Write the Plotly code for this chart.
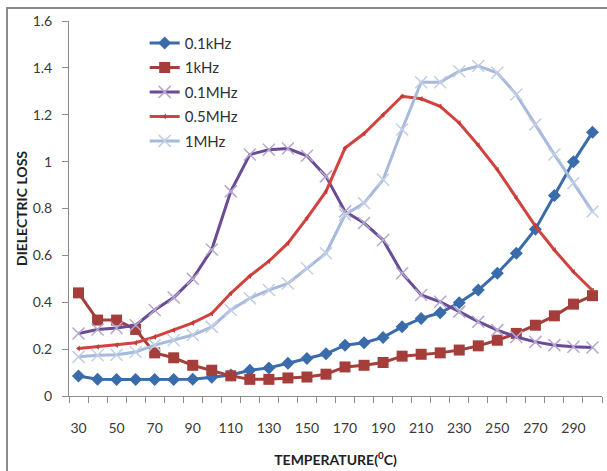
import plotly.graph_objects as go

temps = [30, 40, 50, 60, 70, 80, 90, 100, 110, 120, 130, 140, 150, 160,
         170, 180, 190, 200, 210, 220, 230, 240, 250, 260, 270, 280, 290, 300]
tick_labels = [30, 50, 70, 90, 110, 130, 150, 170, 190, 210, 230, 250, 270, 290]

loss_01khz = [0.085, 0.072, 0.07, 0.07, 0.07, 0.07, 0.072, 0.08, 0.09, 0.11, 0.12, 0.14,
              0.16, 0.18, 0.217, 0.227, 0.25, 0.295, 0.331, 0.355, 0.398, 0.452, 0.524,
              0.609, 0.712, 0.856, 1.0, 1.125]
loss_1khz = [0.44, 0.324, 0.324, 0.284, 0.184, 0.163, 0.131, 0.11, 0.086, 0.071, 0.071,
             0.077, 0.081, 0.093, 0.124, 0.131, 0.143, 0.17, 0.178, 0.184, 0.196, 0.214,
             0.238, 0.267, 0.302, 0.342, 0.392, 0.428]
loss_01mhz = [0.267, 0.284, 0.29, 0.302, 0.367, 0.42, 0.5, 0.625, 0.873, 1.03, 1.051,
              1.056, 1.025, 0.937, 0.787, 0.738, 0.666, 0.524, 0.431, 0.402, 0.36, 0.317,
              0.281, 0.252, 0.231, 0.217, 0.21, 0.207]
loss_05mhz = [0.203, 0.21, 0.217, 0.227, 0.252, 0.281, 0.312, 0.352, 0.438, 0.512, 0.575,
              0.652, 0.759, 0.873, 1.058, 1.12, 1.2, 1.279, 1.268, 1.236, 1.165, 1.07,
              0.966, 0.845, 0.725, 0.623, 0.53, 0.45]
loss_1mhz = [0.167, 0.174, 0.176, 0.188, 0.217, 0.238, 0.26, 0.295, 0.367, 0.417, 0.452,
             0.48, 0.545, 0.609, 0.773, 0.823, 0.923, 1.137, 1.339, 1.339, 1.386, 1.408,
             1.379, 1.286, 1.158, 1.03, 0.909, 0.787]

fig = go.Figure()
fig.add_trace(go.Scatter(x=temps, y=loss_01khz, name="0.1kHz", mode="lines+markers",
                         legendgroup="a",
                         line=dict(color="#3A6BAA", width=3),
                         marker=dict(symbol="diamond", size=10, color="#3A6BAA")))
fig.add_trace(go.Scatter(x=temps, y=loss_1khz, name="1kHz", mode="lines+markers",
                         legendgroup="b",
                         line=dict(color="#A53E3B", width=3),
                         marker=dict(symbol="square", size=11, color="#A53E3B")))
fig.add_trace(go.Scatter(x=temps, y=loss_01mhz, name="0.1MHz", mode="lines+markers",
                         legendgroup="c",
                         line=dict(color="#6A4B96", width=3),
                         marker=dict(symbol="x-thin", size=12, color="#6A4B96",
                                     line=dict(color="#B5A8CF", width=1.5))))
fig.add_trace(go.Scatter(x=temps, y=loss_05mhz, name="0.5MHz", mode="lines+markers",
                         legendgroup="d",
                         line=dict(color="#D2423E", width=3),
                         marker=dict(symbol="triangle-left", size=5, color="#C23A36")))
fig.add_trace(go.Scatter(x=temps, y=loss_1mhz, name="1MHz", mode="lines+markers",
                         legendgroup="e",
                         line=dict(color="#A7BADB", width=3),
                         marker=dict(symbol="x-thin", size=12, color="#A7BADB",
                                     line=dict(color="#C2CEE4", width=1.5))))

axis_font = dict(family="Lato, Noto Sans, sans-serif", size=14, color="#3A3A3A")

fig.update_layout(
    width=607, height=471,
    margin=dict(l=69, r=5, t=21, b=75),
    paper_bgcolor="white", plot_bgcolor="white",
    showlegend=True,
    legend=dict(x=0.142, y=0.985, xanchor="left", yanchor="top",
                font=dict(family="Lato, Noto Sans, sans-serif", size=15, color="#303030"),
                bgcolor="rgba(0,0,0,0)", itemwidth=30, tracegroupgap=2,
                traceorder="grouped"),
    xaxis=dict(range=[25, 305], tickvals=tick_labels, ticktext=[str(t) for t in tick_labels],
               showgrid=False, zeroline=False, showline=True, linecolor="#8C8C8C",
               linewidth=1, ticks="", tickfont=axis_font, ticklabelstandoff=19,
               minor=dict(tickmode="linear", tick0=25, dtick=10, ticks="outside",
                          ticklen=6, tickcolor="#8C8C8C", showgrid=False),
               title=dict(text="<b>TEMPERATURE(<sup>0</sup>C)</b>", standoff=20,
                          font=dict(family="Lato, Noto Sans, sans-serif", size=14,
                                    color="#222222"))),
    yaxis=dict(range=[0, 1.6], tickvals=[0, 0.2, 0.4, 0.6, 0.8, 1.0, 1.2, 1.4, 1.6],
               ticktext=["0", "0.2", "0.4", "0.6", "0.8", "1", "1.2", "1.4", "1.6"],
               showgrid=False, zeroline=False, showline=True, linecolor="#8C8C8C",
               linewidth=1, ticks="outside", ticklen=6, tickcolor="#8C8C8C",
               tickfont=axis_font, ticklabelstandoff=7,
               title=dict(text="<b>DIELECTRIC LOSS</b>", standoff=1,
                          font=dict(family="Lato, Noto Sans, sans-serif", size=14,
                                    color="#222222"))),
    shapes=[dict(type="rect", xref="paper", yref="paper",
                 x0=-0.1163, x1=1.2, y0=-0.4, y1=1.0347,
                 line=dict(color="#8A8A8A", width=2), fillcolor="rgba(0,0,0,0)",
                 layer="below")],
)

fig.write_html("out.html")
